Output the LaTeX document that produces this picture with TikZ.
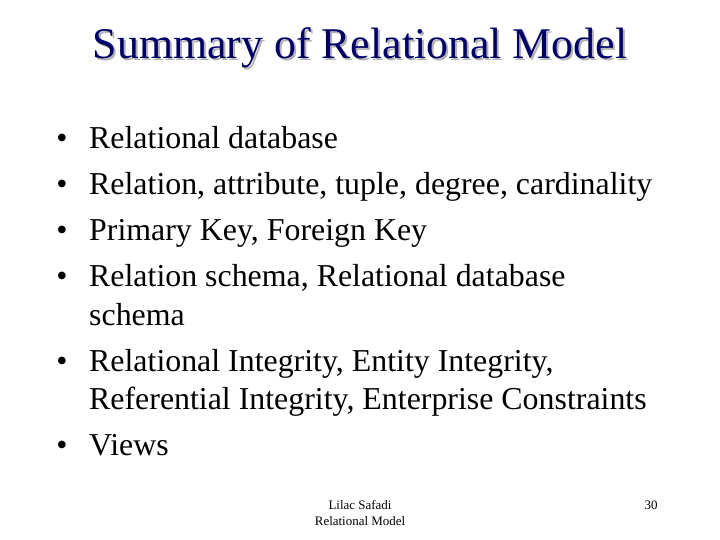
\documentclass[tikz,border=0pt]{standalone}
\usepackage{fontspec}
\setmainfont{Liberation Serif}
\usetikzlibrary{positioning}
\definecolor{titleblue}{RGB}{0,0,102}
\tikzset{
  line/.style={anchor=base west,inner sep=0pt,font=\fontsize{32}{34}\selectfont},
  dot/.style={anchor=base,inner sep=0pt,font=\fontsize{32}{34}\selectfont},
  foot/.style={inner sep=0pt,font=\fontsize{13}{15}\selectfont}
}
\begin{document}
\begin{tikzpicture}[x=1bp,y=-1bp]
\useasboundingbox (0,0) rectangle (720,540);

% title with shadow
\node[inner sep=0pt,text=gray!60,font=\fontsize{44}{48}\selectfont] (shadow) at (362,50) {Summary of Relational Model};
\node[inner sep=0pt,text=titleblue,font=\fontsize{44}{48}\selectfont] (title) at (360,48) {Summary of Relational Model};

% bullet points
\foreach \y/\txt [count=\i] in {149/Relational database,
  195/{Relation, attribute, tuple, degree, cardinality},
  241/{Primary Key, Foreign Key},
  287/{Relation schema, Relational database},
  371/{Relational Integrity, Entity Integrity,},
  455/Views}{
  \node[dot] (b\i) at (62,\y) {\textbullet};
  \node[line] (t\i) at (89,\y) {\txt};
}
\node[line] (t4b) at (89,325) {schema};
\node[line] (t5b) at (89,409) {Referential Integrity, Enterprise Constraints};

% footer
\node[foot] (author) at (360,505) {Lilac Safadi};
\node[foot] (course) at (360,521) {Relational Model};
\node[foot] (page) at (651,505) {30};
\end{tikzpicture}
\end{document}
